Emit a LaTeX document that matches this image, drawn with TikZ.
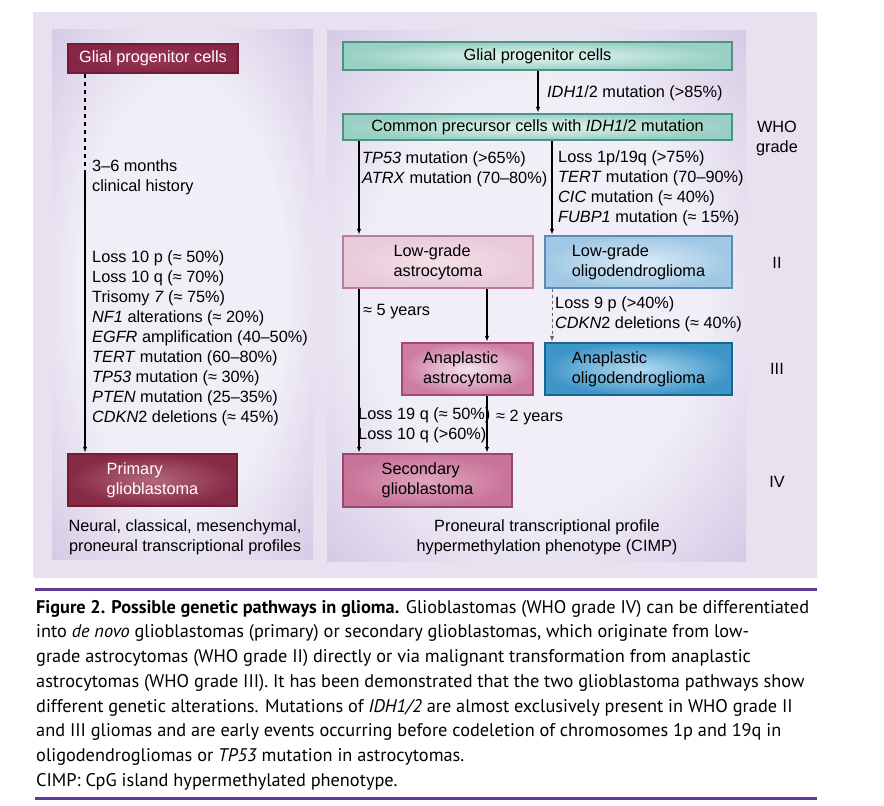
\documentclass[tikz,border=0pt]{standalone}
\usepackage{fontspec}
\setmainfont{Liberation Sans}
\newfontfamily\capfont{PT Sans}
\usetikzlibrary{arrows.meta}

\definecolor{outerbg}{RGB}{231,225,240}
\definecolor{panelin}{RGB}{241,238,247}
\definecolor{paneledge}{RGB}{194,177,217}
\definecolor{capline}{RGB}{94,58,150}
\definecolor{marin}{RGB}{150,55,85}
\definecolor{marout}{RGB}{135,38,68}
\definecolor{maredge}{RGB}{112,28,52}
\definecolor{primin}{RGB}{178,105,120}
\definecolor{primout}{RGB}{135,42,70}
\definecolor{tealin}{RGB}{232,246,242}
\definecolor{tealout}{RGB}{152,208,195}
\definecolor{tealedge}{RGB}{78,145,135}
\definecolor{lastin}{RGB}{243,224,232}
\definecolor{lastout}{RGB}{232,202,217}
\definecolor{lastedge}{RGB}{185,125,155}
\definecolor{aastin}{RGB}{246,228,238}
\definecolor{aastout}{RGB}{205,125,163}
\definecolor{aastedge}{RGB}{165,72,118}
\definecolor{secin}{RGB}{224,165,190}
\definecolor{secout}{RGB}{200,115,152}
\definecolor{secedge}{RGB}{152,72,108}
\definecolor{loligin}{RGB}{220,236,247}
\definecolor{loligout}{RGB}{160,200,228}
\definecolor{loligedge}{RGB}{92,140,180}
\definecolor{aoligin}{RGB}{180,218,241}
\definecolor{aoligout}{RGB}{62,150,200}
\definecolor{aoligedge}{RGB}{26,100,145}

\pgfdeclareradialshading{panelshade}{\pgfpoint{0bp}{0bp}}{color(0bp)=(panelin); color(20bp)=(panelin); color(46bp)=(paneledge); color(72bp)=(paneledge)}

\begin{document}
\begin{tikzpicture}[x=1pt,y=-1pt,
  font=\fontsize{16.3}{20}\selectfont,
  box/.style 2 args={draw, line width=2.5pt, inner sep=2pt, align=left,
    minimum width=#1, minimum height=#2},
  lbl/.style={inner sep=0pt, align=left, anchor=west},
  grade/.style={inner sep=0pt, align=center},
  arr/.style={-{Latex[length=6pt,width=4.5pt]}, line width=1.3pt}]
\useasboundingbox (0,0) rectangle (884,806);
\fill[outerbg] (33,12) rectangle (817,578);
\shade[shading=panelshade] (52,29) rectangle (313,559);
\shade[shading=panelshade] (327,30) rectangle (746,561);

\node[box={170}{29}, draw=maredge, inner color=marin, outer color=marout, text=white] (lglial) at (153,58.5) {Glial progenitor cells};
\node[box={169}{52}, draw=maredge, inner color=primin, outer color=primout, text=white] (primary) at (152.5,480) {Primary\\glioblastoma};

\node[box={389}{28}, draw=tealedge, inner color=tealin, outer color=tealout] (rglial) at (537.5,56) {Glial progenitor cells};
\node[box={389}{26}, draw=tealedge, inner color=tealin, outer color=tealout] (common) at (537.5,127) {Common precursor cells with \textit{IDH1}/2 mutation};
\node[box={190}{52}, draw=lastedge, inner color=lastin, outer color=lastout] (lowastro) at (438,262) {Low-grade\\astrocytoma};
\node[box={187}{52}, draw=loligedge, inner color=loligin, outer color=loligout] (lowoligo) at (638.5,262) {Low-grade\\oligodendroglioma};
\node[box={131}{52}, draw=aastedge, inner color=aastin, outer color=aastout] (anaastro) at (467.5,369) {Anaplastic\\astrocytoma};
\node[box={187}{52}, draw=aoligedge, inner color=aoligin, outer color=aoligout] (anaoligo) at (638.5,369) {Anaplastic\\oligodendroglioma};
\node[box={169}{53}, draw=secedge, inner color=secin, outer color=secout] (secglio) at (427.5,480.5) {Secondary\\glioblastoma};

\coordinate (lx) at (85,173);
\coordinate (c1) at (359,0);
\coordinate (c2) at (487,0);
\coordinate (c3) at (552,0);
\coordinate (c4) at (538,0);

\draw[line width=1.3pt, dash pattern=on 4pt off 4pt] (lglial.south -| lx) -- (lx);
\draw[arr] (lx) -- (primary.north -| lx);
\path[arr]
  (rglial.south -| c4) edge (common.north -| c4)
  (common.south -| c1) edge (lowastro.north -| c1)
  (common.south -| c3) edge (lowoligo.north -| c3)
  (lowastro.south -| c1) edge (secglio.north -| c1)
  (lowastro.south -| c2) edge (anaastro.north -| c2)
  (anaastro.south -| c2) edge (secglio.north -| c2);
\path[arr, dashed, gray!80!black, line width=1pt]
  (lowoligo.south -| c3) edge (anaoligo.north -| c3);

\node[lbl] (months) at (92,177) {3--6 months\\clinical history};
\node[lbl] (primlist) at (92,338) {Loss 10 p (≈ 50\%)\\Loss 10 q (≈ 70\%)\\Trisomy \textit{7} (≈ 75\%)\\\textit{NF1} alterations (≈ 20\%)\\\textit{EGFR} amplification (40--50\%)\\\textit{TERT} mutation (60--80\%)\\\textit{TP53} mutation (≈ 30\%)\\\textit{PTEN} mutation (25--35\%)\\\textit{CDKN}2 deletions (≈ 45\%)};
\node[inner sep=0pt, align=center] (lprofile) at (185,537) {Neural, classical, mesenchymal,\\proneural transcriptional profiles};

\node[lbl] (idh) at (547,93) {\textit{IDH1}/2 mutation (>85\%)};
\node[lbl] (astrolist) at (362,169.5) {\textit{TP53} mutation (>65\%)\\\textit{ATRX} mutation (70--80\%)};
\node[lbl] (oliglist) at (558,188.5) {Loss 1p/19q (>75\%)\\\textit{TERT} mutation (70--90\%)\\\textit{CIC} mutation (≈ 40\%)\\\textit{FUBP1} mutation (≈ 15\%)};
\node[lbl] (fiveyears) at (363,312) {≈ 5 years};
\node[lbl] (loss9p) at (555,314) {Loss 9 p (>40\%)\\\textit{CDKN}2 deletions (≈ 40\%)};
\node[lbl] (loss19q) at (358,425.5) {Loss 19 q (≈ 50\%)\\Loss 10 q (>60\%)};
\node[lbl] (twoyears) at (496,417) {≈ 2 years};
\node[inner sep=0pt, align=center] (rprofile) at (547,537) {Proneural transcriptional profile\\hypermethylation phenotype (CIMP)};

\node[grade] (who) at (777,138) {WHO\\grade};
\node[grade] (g2) at (777,263) {II};
\node[grade] (g3) at (777,369) {III};
\node[grade] (g4) at (777,482) {IV};

\draw[capline, line width=3pt] (35,589) -- (817,589);
\draw[capline, line width=3pt] (35,798) -- (817,798);
\node[inner sep=0pt, align=left, anchor=north west, font=\capfont\fontsize{18.3}{24.7}\selectfont] (caption) at (36,600)
  {\textbf{Figure 2. Possible genetic pathways in glioma.} Glioblastomas (WHO grade IV) can be differentiated\\
   into \textit{de novo} glioblastomas (primary) or secondary glioblastomas, which originate from low-\\
   grade astrocytomas (WHO grade II) directly or via malignant transformation from anaplastic\\
   astrocytomas (WHO grade III). It has been demonstrated that the two glioblastoma pathways show\\
   different genetic alterations. Mutations of \textit{IDH1/2} are almost exclusively present in WHO grade II\\
   and III gliomas and are early events occurring before codeletion of chromosomes 1p and 19q in\\
   oligodendrogliomas or \textit{TP53} mutation in astrocytomas.\\
   CIMP: CpG island hypermethylated phenotype.};
\end{tikzpicture}
\end{document}
